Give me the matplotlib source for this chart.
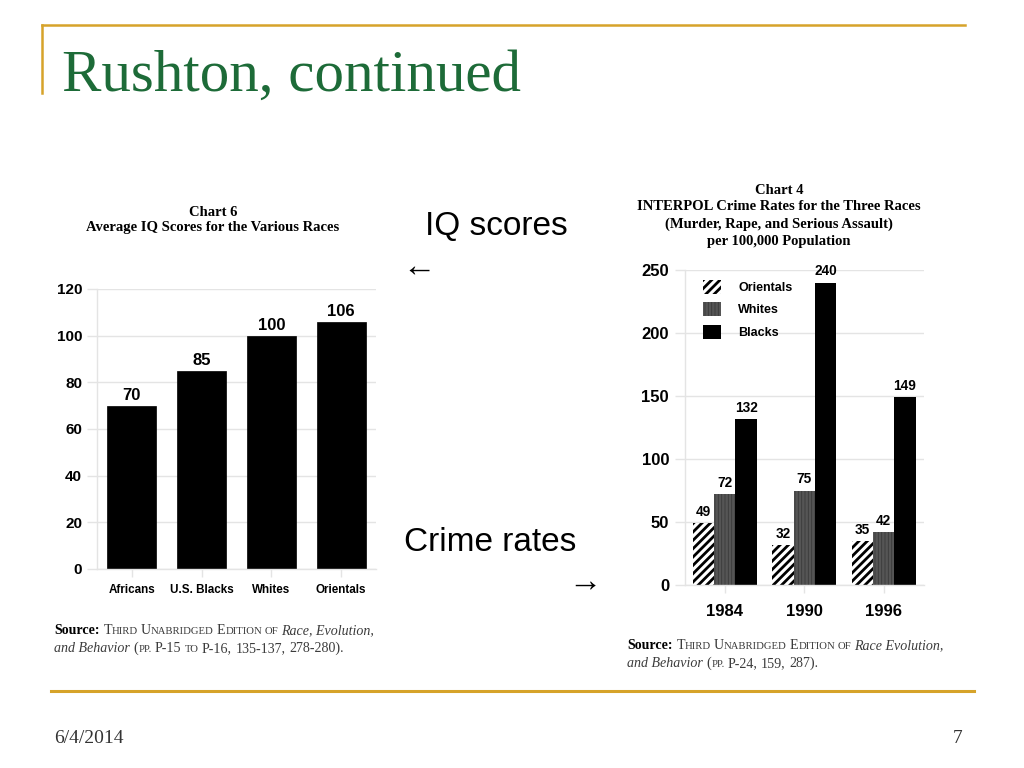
import matplotlib
matplotlib.use("Agg")
import matplotlib.pyplot as plt
from matplotlib.patches import Patch
from matplotlib.lines import Line2D

# ---------------- data ----------------
slide_title = "Rushton, continued"
slide_date = "6/4/2014"
slide_number = "7"

iq_title = ["Chart 6", "Average IQ Scores for the Various Races"]
iq_groups = ["Africans", "U.S. Blacks", "Whites", "Orientals"]
iq_values = [70, 85, 100, 106]
iq_yticks = [0, 20, 40, 60, 80, 100, 120]

crime_title = ["Chart 4", "INTERPOL Crime Rates for the Three Races",
               "(Murder, Rape, and Serious Assault)", "per 100,000 Population"]
crime_years = ["1984", "1990", "1996"]
crime_series = ["Orientals", "Whites", "Blacks"]
orientals = [49, 32, 35]
whites = [72, 75, 42]
blacks = [132, 240, 149]
crime_yticks = [0, 50, 100, 150, 200, 250]

W, H = 1024, 768
GOLD = "#d6a32a"
GREEN = "#1d6b38"
GRID = "#e4e4e4"
OR_HATCH = "////"
WH_HATCH = "|||||"

plt.rcParams["hatch.linewidth"] = 2.0
fig = plt.figure(figsize=(W / 100, H / 100), dpi=100)
fig.patch.set_facecolor("white")

def fx(px):
    return px / W

def fy(py):
    return 1 - py / H

# ---------------- slide decorations ----------------
fig.add_artist(Line2D([fx(42), fx(965)], [fy(25), fy(25)], color=GOLD, lw=1.8))
fig.add_artist(Line2D([fx(42), fx(42)], [fy(25), fy(93)], color=GOLD, lw=1.8))
fig.add_artist(Line2D([fx(51), fx(974)], [fy(691), fy(691)], color=GOLD, lw=2.2))
fig.text(fx(62), fy(91), slide_title, fontsize=42.5, color=GREEN,
         family="Liberation Serif", va="baseline", ha="left")
fig.text(fx(54), fy(743), slide_date, fontsize=14, color="#333333",
         family="Liberation Serif", va="baseline", ha="left")
fig.text(fx(963), fy(743), slide_number, fontsize=14, color="#333333",
         family="Liberation Serif", va="baseline", ha="right")

ARROW_FAM = ["Liberation Sans", "DejaVu Sans"]
fig.text(fx(425), fy(235), "IQ scores", fontsize=24, family=ARROW_FAM,
         va="baseline", ha="left", color="black")
fig.text(fx(402), fy(267), "\u2190", fontsize=24, family=ARROW_FAM,
         va="center", ha="left", color="black")
fig.text(fx(404), fy(551), "Crime rates", fontsize=24, family=ARROW_FAM,
         va="baseline", ha="left", color="black")
fig.text(fx(568), fy(582), "\u2192", fontsize=24, family=ARROW_FAM,
         va="center", ha="left", color="black")

SANS = "Liberation Sans"
SERIF = "Liberation Serif"

def style_axes(ax):
    for s in ["top", "right"]:
        ax.spines[s].set_visible(False)
    for s in ["left", "bottom"]:
        ax.spines[s].set_color(GRID)
        ax.spines[s].set_linewidth(1.0)
    ax.grid(axis="y", color=GRID, lw=1.0)
    ax.set_axisbelow(True)
    ax.tick_params(axis="y", length=7.2, width=1.0, color=GRID, pad=3.6)
    ax.set_facecolor("white")

def thin_hatch(artists):
    for p in artists:
        try:
            p.set_hatch_linewidth(0.6)
        except Exception:
            pass

# ---------------- left chart: IQ ----------------
axL = fig.add_axes([fx(97), 1 - 569 / H, 279 / W, 280 / H])
style_axes(axL)
xL = list(range(len(iq_groups)))
axL.bar(xL, iq_values, width=0.70, color="black", edgecolor="black", lw=0.5)
axL.set_xlim(-0.5, len(iq_groups) - 0.5)
axL.set_ylim(0, 120)
axL.set_yticks(iq_yticks)
axL.set_yticklabels([str(v) for v in iq_yticks], fontsize=11, fontweight="bold", family=SANS)
axL.set_xticks(xL)
axL.set_xticklabels(iq_groups, fontsize=8.4, fontweight="bold", family=SANS)
axL.tick_params(axis="x", length=6, width=1.0, color=GRID, pad=5)
for xi, v in zip(xL, iq_values):
    axL.annotate(str(v), (xi, v), xytext=(0, 2), textcoords="offset points",
                 ha="center", va="bottom", fontsize=12, fontweight="bold",
                 family=SANS, annotation_clip=False)

fig.text(fx(213), fy(212), iq_title[0], fontsize=10.5, fontweight="bold",
         family=SERIF, ha="center", va="center")
fig.text(fx(213), fy(227), iq_title[1], fontsize=10.5, fontweight="bold",
         family=SERIF, ha="center", va="center")

# ---------------- right chart: crime ----------------
axR = fig.add_axes([fx(685), 1 - 585 / H, 238.5 / W, 315 / H])
style_axes(axR)
xR = list(range(len(crime_years)))
bw = 0.268
bo = axR.bar([x - bw for x in xR], orientals, width=bw, color="white",
             edgecolor="black", hatch=OR_HATCH, lw=0, label=crime_series[0])
bwh = axR.bar(xR, whites, width=bw, color="#555555", edgecolor="#3a3a3a",
              hatch=WH_HATCH, lw=0, label=crime_series[1])
bb = axR.bar([x + bw for x in xR], blacks, width=bw, color="black",
             edgecolor="black", lw=0, label=crime_series[2])
thin_hatch(bwh)
axR.set_xlim(-0.5, len(crime_years) - 0.5)
axR.set_ylim(0, 250)
axR.set_yticks(crime_yticks)
axR.set_yticklabels([str(v) for v in crime_yticks], fontsize=12, fontweight="bold", family=SANS)
axR.tick_params(axis="y", pad=4.3)
axR.set_xticks(xR)
axR.set_xticklabels(crime_years, fontsize=12, fontweight="bold", family=SANS)
axR.tick_params(axis="x", length=6, width=1.0, color=GRID, pad=8)
for bars, vals in ((bo, orientals), (bwh, whites), (bb, blacks)):
    for p, v in zip(bars, vals):
        axR.annotate(str(v), (p.get_x() + p.get_width() / 2, v), xytext=(0, 3),
                     textcoords="offset points", ha="center", va="bottom",
                     fontsize=9.8, fontweight="bold", family=SANS,
                     annotation_clip=False)

handles = [
    Patch(facecolor="white", edgecolor="black", hatch=OR_HATCH, lw=0),
    Patch(facecolor="#555555", edgecolor="#3a3a3a", hatch=WH_HATCH, lw=0),
    Patch(facecolor="black", edgecolor="black", lw=0),
]
leg = axR.legend(handles, crime_series, loc="upper left", bbox_to_anchor=(0.055, 0.985),
                 frameon=False, borderaxespad=0, handlelength=1.45, handleheight=1.35,
                 labelspacing=0.66, handletextpad=1.35,
                 prop={"family": SANS, "weight": "bold", "size": 9})
thin_hatch([h for h in leg.legend_handles if h.get_hatch() == WH_HATCH])

crime_title_y = [190, 207, 224, 241]
for t, yy in zip(crime_title, crime_title_y):
    fig.text(fx(779), fy(yy), t, fontsize=10.5, fontweight="bold",
             family=SERIF, ha="center", va="center")

# ---------------- source lines (rich text) ----------------
renderer = fig.canvas.get_renderer()
SRC_COLOR = "#3c3c3c"

def smallcaps(text, size, color=SRC_COLOR):
    pieces = []
    words = text.split(" ")
    for wi, w in enumerate(words):
        parts = []
        if w and w[0].isupper():
            parts.append((w[0], size))
            rest = w[1:]
        else:
            rest = w
        if rest:
            parts.append((rest.upper(), size * 0.76))
        for pi, (txt, sz) in enumerate(parts):
            last = (pi == len(parts) - 1) and (wi < len(words) - 1)
            pieces.append((txt, sz, "normal", "normal", color, last))
    return pieces

def draw_rich(x, y, pieces):
    for txt, sz, wt, st, col, space in pieces:
        t = fig.text(fx(x), fy(y), txt, fontsize=sz, fontweight=wt, fontstyle=st,
                     color=col, family=SERIF, ha="left", va="baseline")
        ext = t.get_window_extent(renderer)
        x += ext.width
        if space:
            x += 0.27 * sz * 100 / 72
    return x

S = 10.1

def src_lines(x0, y1, y2, book_l1, book_l2, refs):
    p1 = [("Source:", S, "bold", "normal", "black", True)]
    p1 += smallcaps("Third Unabridged Edition of", S)
    p1[-1] = p1[-1][:5] + (True,)
    p1 += [(book_l1, S, "normal", "italic", SRC_COLOR, False)]
    draw_rich(x0, y1, p1)
    p2 = [(book_l2, S, "normal", "italic", SRC_COLOR, True),
          ("(", S, "normal", "normal", SRC_COLOR, False),
          ("PP.", S * 0.76, "normal", "normal", SRC_COLOR, True)]
    for i, (txt, kind) in enumerate(refs):
        last = i == len(refs) - 1
        if kind == "sc":
            p2.append((txt.upper(), S * 0.76, "normal", "normal", SRC_COLOR, not last))
        else:
            p2.append((txt, S, "normal", "normal", SRC_COLOR, not last))
    draw_rich(x0, y2, p2)

src_lines(54, 634, 652, "Race, Evolution,", "and Behavior",
          [("P-15", "n"), ("to", "sc"), ("P-16,", "n"), ("135-137,", "n"), ("278-280).", "n")])
src_lines(627, 649, 667, "Race Evolution,", "and Behavior",
          [("P-24,", "n"), ("159,", "n"), ("287).", "n")])

fig.savefig("out.png", dpi=100, facecolor="white")
